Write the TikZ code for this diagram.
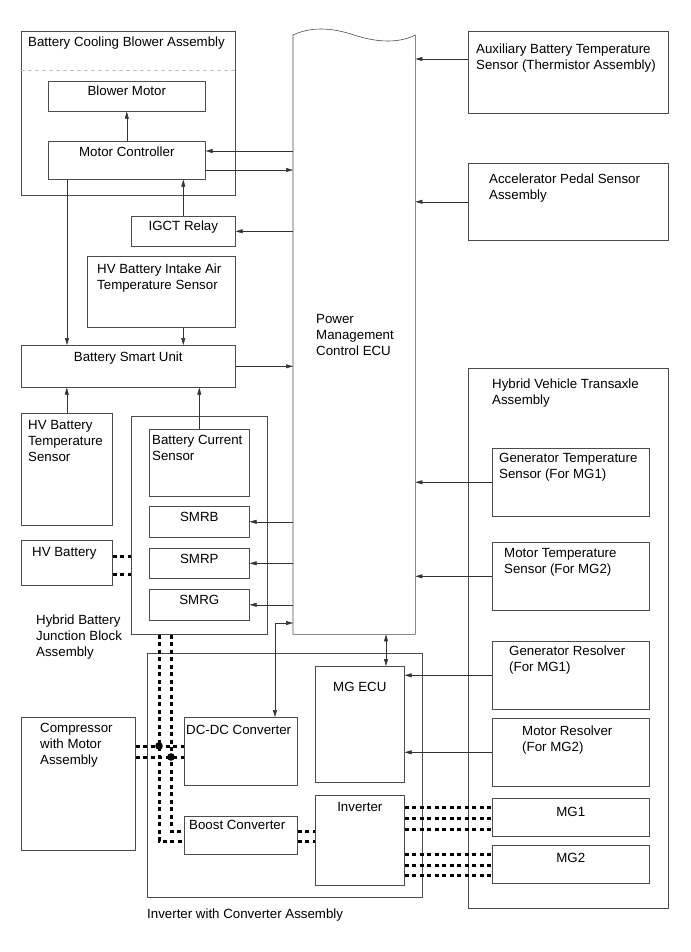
\documentclass[tikz,border=0pt]{standalone}
\usepackage{fontspec}
\setmainfont{Liberation Sans}
\usetikzlibrary{arrows.meta}

\begin{document}
\begin{tikzpicture}[
  x=1pt, y=-1pt,
  >={Triangle[length=7pt,width=4pt]},
  font=\fontsize{13.3}{16}\selectfont,
  mybox/.style 2 args={draw=black!70, line width=0.6pt, inner sep=0pt,
    anchor=north west, minimum width=#1, minimum height=#2},
  mylbl/.style={anchor=north west, inner sep=0pt, align=left},
  mysig/.style={->, draw=black!80, line width=0.5pt},
  myhv/.style={line width=3pt, dash pattern=on 4pt off 3.5pt}
]
\useasboundingbox (0,0) rectangle (690,952);

% battery cooling blower assembly
\node[mybox={214pt}{164pt}, label={[mylbl,xshift=7pt,yshift=-6pt]north west:Battery Cooling Blower Assembly}] (bcba) at (21,31) {};
\draw[gray!50, line width=0.8pt, dash pattern=on 4pt off 3pt] (bcba.west |- 0,70) -- (bcba.east |- 0,70);
\node[mybox={157pt}{30pt}, label={[mylbl,anchor=north,yshift=-5pt]north:Blower Motor}] (bm) at (48,81) {};
\node[mybox={157pt}{38pt}, label={[mylbl,anchor=north,yshift=-6pt]north:Motor Controller}] (mc) at (48,141) {};
\node[mybox={104pt}{30pt}, label={[mylbl,anchor=north,yshift=-5pt]north:IGCT Relay}] (igct) at (131,216) {};
\node[mybox={148pt}{71pt}, label={[mylbl,xshift=10pt,yshift=-8pt]north west:HV Battery Intake Air\\Temperature Sensor}] (iat) at (87,256) {};
\node[mybox={214pt}{42pt}, label={[mylbl,anchor=north,yshift=-7pt]north:Battery Smart Unit}] (bsu) at (21,345) {};
\node[mybox={91pt}{112pt}, label={[mylbl,xshift=7pt,yshift=-7pt]north west:HV Battery\\Temperature\\Sensor}] (hvts) at (21,413) {};
\node[mybox={91pt}{45pt}, label={[mylbl,xshift=11pt,yshift=-7pt]north west:HV Battery}] (hvb) at (21,540) {};

% hybrid battery junction block
\node[mybox={136pt}{218pt}] (hbjb) at (131,416) {};
\node[mylbl] (hbjbtext) at (36,615) {Hybrid Battery\\Junction Block\\Assembly};
\node[mybox={100pt}{67pt}, label={[mylbl,xshift=3pt,yshift=-6pt]north west:Battery Current\\Sensor}] (bcs) at (149,429) {};
\node[mybox={100pt}{31pt}, label={[mylbl,anchor=north,yshift=-6pt]north:SMRB}] (smrb) at (149,506) {};
\node[mybox={100pt}{30pt}, label={[mylbl,anchor=north,yshift=-6pt]north:SMRP}] (smrp) at (149,548) {};
\node[mybox={100pt}{31pt}, label={[mylbl,anchor=north,yshift=-6pt]north:SMRG}] (smrg) at (149,589) {};

% power management control ecu
\node[minimum width=122pt, minimum height=599pt, inner sep=0pt, anchor=north west,
  label={[mylbl,xshift=23pt,yshift=-279pt]north west:Power\\Management\\Control ECU}] (ecu) at (293,35) {};
\draw[draw=black!70, line width=0.6pt] (ecu.south west) -- (ecu.north west)
  .. controls (310,27) and (330,27) .. (354,35)
  .. controls (378,43) and (400,43) .. (ecu.north east) -- (ecu.south east) -- cycle;

% inverter with converter assembly
\node[mybox={275pt}{244pt}] (iwc) at (147,653) {};
\node[mylbl] (iwctext) at (147,909) {Inverter with Converter Assembly};
\node[mybox={113pt}{68pt}, label={[mylbl,xshift=2pt,yshift=-8pt]north west:DC-DC Converter}] (dcdc) at (184,717) {};
\node[mybox={113pt}{38pt}, label={[mylbl,xshift=5pt,yshift=-4pt]north west:Boost Converter}] (boost) at (184,816) {};
\node[mybox={89pt}{116pt}, label={[mylbl,anchor=north,yshift=-16pt]north:MG ECU}] (mgecu) at (315,666) {};
\node[mybox={89pt}{90pt}, label={[mylbl,anchor=north,yshift=-7pt]north:Inverter}] (inv) at (315,795) {};
\node[mybox={114pt}{133pt}, label={[mylbl,xshift=19pt,yshift=-6pt]north west:Compressor\\with Motor\\Assembly}] (comp) at (21,717) {};

% sensors on the right
\node[mybox={200pt}{82pt}, label={[mylbl,xshift=8pt,yshift=-13pt]north west:Auxiliary Battery Temperature\\Sensor (Thermistor Assembly)}] (aux) at (468,31) {};
\node[mybox={200pt}{77pt}, label={[mylbl,xshift=21pt,yshift=-11pt]north west:Accelerator Pedal Sensor\\Assembly}] (aps) at (468,163) {};
\node[mybox={200pt}{540pt}, label={[mylbl,xshift=24pt,yshift=-11pt]north west:Hybrid Vehicle Transaxle\\Assembly}] (hvta) at (468,368) {};
\node[mybox={157pt}{68pt}, label={[mylbl,xshift=7pt,yshift=-5pt]north west:Generator Temperature\\Sensor (For MG1)}] (gts) at (492,448) {};
\node[mybox={157pt}{68pt}, label={[mylbl,xshift=12pt,yshift=-6pt]north west:Motor Temperature\\Sensor (For MG2)}] (mts) at (492,542) {};
\node[mybox={157pt}{68pt}, label={[mylbl,xshift=17pt,yshift=-5pt]north west:Generator Resolver\\(For MG1)}] (grs) at (492,641) {};
\node[mybox={157pt}{68pt}, label={[mylbl,xshift=30pt,yshift=-8pt]north west:Motor Resolver\\(For MG2)}] (mrs) at (492,718) {};
\node[mybox={157pt}{38pt}, label={[mylbl,anchor=north,yshift=-9pt]north:MG1}] (mg1) at (492,798) {};
\node[mybox={157pt}{38pt}, label={[mylbl,anchor=north,yshift=-8pt]north:MG2}] (mg2) at (492,845) {};

% signal lines
\draw[mysig] (ecu.west |- 0,151) -- (mc.east |- 0,151);
\draw[mysig] (mc.east |- 0,170) -- (ecu.west |- 0,170);
\draw[mysig] (mc.north) -- (bm.south);
\draw[mysig] (ecu.west |- igct.east) -- (igct.east);
\draw[mysig] (igct.north) -- (mc.south -| igct.north);
\draw[mysig] (mc.south -| 67,0) -- (bsu.north -| 67,0);
\draw[mysig] (iat.south -| igct.north) -- (bsu.north -| igct.north);
\draw[mysig] (hvts.north) -- (bsu.south -| hvts.north);
\draw[mysig] (bcs.north) -- (bsu.south -| bcs.north);
\draw[mysig] (bsu.east) -- (ecu.west |- bsu.east);
\foreach \s in {smrb,smrp,smrg}
  \draw[mysig] (ecu.west |- \s.east) -- (\s.east);
\draw[mysig, <->] (ecu.west |- 0,623) -| (dcdc.north -| 275,0);
\draw[mysig, <->] (ecu.south -| 386,0) -- (mgecu.north -| 386,0);
\draw[mysig] (aux.west |- 0,59) -- (ecu.east |- 0,59);
\foreach \s in {aps,gts,mts}
  \draw[mysig] (\s.west) -- (ecu.east |- \s.west);
\foreach \s in {grs,mrs}
  \draw[mysig] (\s.west) -- (mgecu.east |- \s.west);

% high voltage lines
\foreach \y in {556,574}
  \draw[myhv] (hvb.east |- 0,\y) -- (hbjb.west |- 0,\y);
\draw[myhv] (hbjb.south -| 159,0) |- (boost.west |- 0,841);
\draw[myhv] (hbjb.south -| 171,0) |- (boost.west |- 0,831);
\foreach \y in {746,757}
  \draw[myhv] (comp.east |- 0,\y) -- (dcdc.west |- 0,\y);
\fill (159,746) circle[radius=3.8];
\fill (171,757) circle[radius=3.8];
\foreach \y in {831,841}
  \draw[myhv] (boost.east |- 0,\y) -- (inv.west |- 0,\y);
\foreach \y in {807,818,829}
  \draw[myhv] (inv.east |- 0,\y) -- (mg1.west |- 0,\y);
\foreach \y in {854,865,875}
  \draw[myhv] (inv.east |- 0,\y) -- (mg2.west |- 0,\y);

\end{tikzpicture}
\end{document}
